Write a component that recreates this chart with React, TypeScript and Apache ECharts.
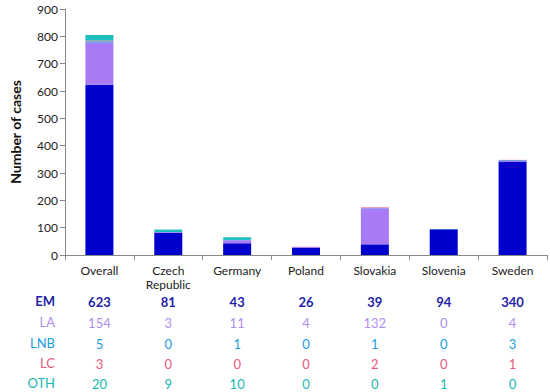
import React, { useEffect, useRef } from "react";
import * as echarts from "echarts";

const categories = ["Overall", "Czech\nRepublic", "Germany", "Poland", "Slovakia", "Slovenia", "Sweden"];
const seriesNames = ["EM", "LA", "LNB", "LC", "OTH"];
const EM = [623, 81, 43, 26, 39, 94, 340];
const LA = [154, 3, 11, 4, 132, 0, 4];
const LNB = [5, 0, 1, 0, 1, 0, 3];
const LC = [3, 0, 0, 0, 2, 0, 1];
const OTH = [20, 9, 10, 0, 0, 1, 0];
const yTicks = { min: 0, max: 900, interval: 100 };

const barColors = ["#0000cc", "#a87af5", "#3aa0e8", "#e8557a", "#1fbfbf"];
const textColors = ["#1f1fa8", "#b08ef0", "#1a9de0", "#e85a80", "#17b8b0"];
const FONT = "Lato, 'Open Sans', sans-serif";

export default function App() {
  const ref = useRef<HTMLDivElement>(null);
  useEffect(() => {
    const chart = echarts.init(ref.current!, null, { renderer: "svg" });
    const data = [EM, LA, LNB, LC, OTH];
    const rowY = [302, 323, 344, 364, 384];
    const baseY = 255;
    const extraAxes = data.map((vals, i) => ({
      type: "category",
      gridIndex: 0,
      position: "bottom",
      offset: rowY[i] - baseY - 7,
      data: categories,
      axisLine: { show: false },
      axisTick: { show: false },
      axisLabel: {
        margin: 0,
        interval: 0,
        fontSize: 13,
        fontFamily: FONT,
        fontWeight: i === 0 ? "bold" : "normal",
        color: textColors[i],
        formatter: (_v: string, idx: number) => String(vals[idx]),
      },
    }));
    chart.setOption({
      animation: false,
      grid: { left: 60, right: 3, top: 9, bottom: 137, containLabel: false },
      xAxis: [
        {
          type: "category",
          data: categories,
          axisLine: { lineStyle: { color: "#888", width: 1 } },
          axisTick: { show: true, length: 5, lineStyle: { color: "#888" } },
          axisLabel: {
            interval: 0,
            margin: 8,
            fontSize: 12,
            lineHeight: 14,
            color: "#222",
            fontFamily: FONT,
          },
        },
        ...extraAxes,
      ],
      yAxis: {
        type: "value",
        ...yTicks,
        name: "Number of cases",
        nameLocation: "middle",
        nameGap: 43,
        nameRotate: 90,
        nameTextStyle: { fontSize: 14, fontWeight: "bold", color: "#111", fontFamily: FONT },
        axisLine: { show: true, lineStyle: { color: "#888" } },
        axisTick: { show: true, length: 5, lineStyle: { color: "#888" } },
        splitLine: { show: false },
        axisLabel: { fontSize: 12, color: "#222", margin: 7, fontFamily: FONT },
      },
      series: data.map((vals, i) => ({
        type: "bar",
        name: seriesNames[i],
        stack: "total",
        barWidth: 28,
        xAxisIndex: 0,
        itemStyle: { color: barColors[i] },
        data: vals,
      })),
      graphic: seriesNames.map((n, i) => ({
        type: "text",
        right: 550 - 55,
        top: rowY[i] - 8,
        style: {
          text: n,
          fill: textColors[i],
          fontSize: 13,
          fontFamily: FONT,
          fontWeight: i === 0 ? "bold" : "normal",
          align: "right",
        },
      })),
    });
    return () => chart.dispose();
  }, []);
  return <div ref={ref} style={{ width: 550, height: 392, position: "absolute", left: 0, top: 0 }} />;
}
